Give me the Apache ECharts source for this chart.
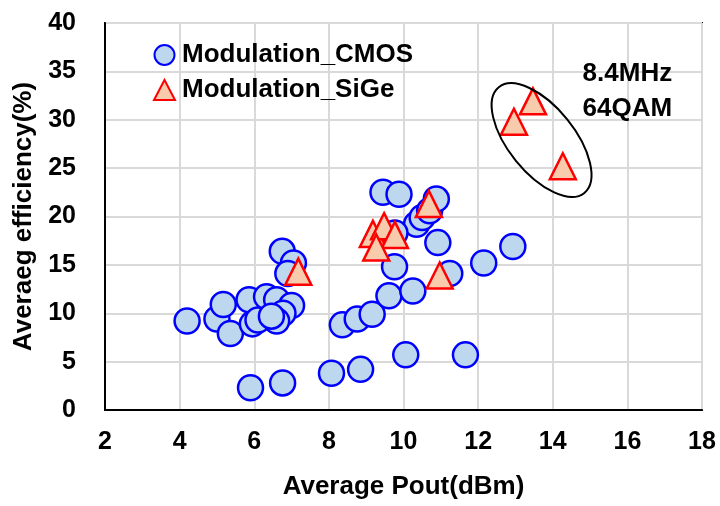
<!DOCTYPE html>
<html>
<head>
<meta charset="utf-8">
<script src="https://cdn.jsdelivr.net/npm/echarts@6/dist/echarts.min.js"></script>
<style>
  html, body { margin: 0; padding: 0; background: #fff; }
  #chart { width: 720px; height: 506px; }
</style>
</head>
<body>
<div id="chart"></div>
<script>
// Average output power (dBm) vs. average efficiency (%)
const cmosPout = [4.2, 5.0, 5.17, 5.36, 5.86, 5.95, 5.9, 6.76, 6.75, 7.05, 6.9, 6.33, 6.6, 7.0, 6.77, 6.1, 6.6, 6.46,
  8.07, 8.85, 10.06, 11.66, 8.36, 8.76, 9.16, 9.61, 10.25, 9.76, 11.24, 12.15, 12.93, 10.92, 10.35, 10.5, 10.7, 10.88,
  9.45, 9.88, 9.77];
const cmosEff = [9.2, 9.4, 10.9, 7.9, 11.4, 8.9, 2.3, 2.8, 16.4, 15.2, 14.1, 11.7, 11.4, 10.8, 10.0, 9.3, 9.2, 9.7,
  3.8, 4.2, 5.7, 5.7, 8.8, 9.4, 9.9, 11.8, 12.3, 14.8, 14.1, 15.2, 16.9, 17.3, 19.2, 19.9, 20.6, 21.8,
  22.5, 22.3, 18.3];
const sigePout = [7.18, 9.18, 9.48, 9.77, 9.27, 10.68, 10.97, 12.96, 13.47, 14.27];
const sigeEff = [14.3, 18.2, 19.0, 18.1, 16.8, 21.3, 13.9, 29.8, 31.9, 25.2];

const xTicks = { min: 2, max: 18, step: 2 };
const yTicks = { min: 0, max: 40, step: 5 };

const seriesNames = ['Modulation_CMOS', 'Modulation_SiGe'];
const noteLines = ['8.4MHz', '64QAM'];
// centre of the ring drawn around the 64QAM group, in axis units
const ringCentre = [13.7, 27.9];
// top-left corner of the note beside the ring, in axis units
const noteCorner = [14.8, 36.6];

const FONT = '"Liberation Sans", Arial, sans-serif';

const zip = (xs, ys) => xs.map((x, i) => [x, ys[i]]);

const chart = echarts.init(document.getElementById('chart'), null, { renderer: 'canvas' });

const gridLine = { show: true, lineStyle: { color: '#d9d9d9', width: 2 } };

chart.setOption({
  animation: false,
  backgroundColor: '#fff',
  grid: {
    left: 105, right: 18, top: 23, bottom: 96,
    containLabel: false, outerBoundsMode: 'none',
    show: true, borderColor: '#000', borderWidth: 2, backgroundColor: 'transparent'
  },
  legend: {
    orient: 'vertical',
    left: 148, top: 37,
    itemWidth: 21, itemHeight: 20, itemGap: 9,
    textStyle: { fontFamily: FONT, fontWeight: 'bold', fontSize: 26, color: '#000', padding: [0, 0, 0, 2] },
    data: seriesNames
  },
  xAxis: {
    type: 'value',
    min: xTicks.min, max: xTicks.max, interval: xTicks.step,
    name: 'Average Pout(dBm)',
    nameLocation: 'middle', nameGap: 64,
    nameTextStyle: { fontFamily: FONT, fontWeight: 'bold', fontSize: 26, color: '#000' },
    axisLine: { show: true, lineStyle: { color: '#000', width: 2 } },
    axisTick: { show: false },
    axisLabel: { margin: 20, fontFamily: FONT, fontWeight: 'bold', fontSize: 25, color: '#000' },
    splitLine: gridLine
  },
  yAxis: {
    type: 'value',
    min: yTicks.min, max: yTicks.max, interval: yTicks.step,
    name: 'Averaeg efficiency(%)',
    nameLocation: 'middle', nameGap: 66,
    nameTextStyle: { fontFamily: FONT, fontWeight: 'bold', fontSize: 26, color: '#000' },
    axisLine: { show: true, lineStyle: { color: '#000', width: 2 } },
    axisTick: { show: false },
    axisLabel: { margin: 29, fontFamily: FONT, fontWeight: 'bold', fontSize: 25, color: '#000' },
    splitLine: gridLine
  },
  series: [
    {
      name: seriesNames[0],
      type: 'scatter',
      symbol: 'circle',
      symbolSize: 25,
      itemStyle: { color: '#bdd7ee', borderColor: '#0000ff', borderWidth: 2.5, opacity: 1 },
      data: zip(cmosPout, cmosEff),
      z: 2
    },
    {
      name: seriesNames[1],
      type: 'scatter',
      symbol: 'triangle',
      symbolSize: 26,
      itemStyle: { color: '#f8cbad', borderColor: '#ff0000', borderWidth: 2.5, opacity: 1 },
      data: zip(sigePout, sigeEff),
      z: 3
    }
  ]
});

// ring and note for the 64QAM group, placed through the axis scales
function drawNotes() {
  const c = chart.convertToPixel({ gridIndex: 0 }, ringCentre);
  const noteAt = chart.convertToPixel({ gridIndex: 0 }, noteCorner);
  chart.setOption({
    graphic: [
      {
        type: 'ellipse',
        x: c[0], y: c[1],
        rotation: -51 * Math.PI / 180,
        shape: { cx: 0, cy: 0, rx: 68, ry: 33 },
        style: { fill: 'none', stroke: '#000', lineWidth: 2 },
        z: 10
      },
      {
        type: 'text',
        x: noteAt[0], y: noteAt[1],
        style: {
          text: noteLines.join('\n'),
          font: 'bold 26px ' + FONT,
          fill: '#000',
          lineHeight: 35,
          textAlign: 'left',
          textVerticalAlign: 'top'
        },
        z: 10
      }
    ]
  });
}
drawNotes();
</script>
</body>
</html>
